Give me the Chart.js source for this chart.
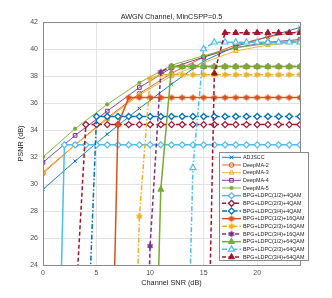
<!DOCTYPE html>
<html>
<head>
<meta charset="utf-8">
<script src="https://cdn.jsdelivr.net/npm/chart.js@4.4.1/dist/chart.umd.min.js"></script>
<style>
  html, body { margin: 0; padding: 0; background: #fff; }
  #wrap { width: 332px; height: 298px; }
</style>
</head>
<body>
<div id="wrap"><canvas id="chart" width="332" height="298"></canvas></div>
<script>
/* ===== DATA ===== */
const snrAll    = [0,1,2,3,4,5,6,7,8,9,10,11,12,13,14,15,16,17,18,19,20,21,22,23,24];
const snrCoarse = [0,3,6,9,12,15,18,21,24];
const xTicks = [0,5,10,15,20];
const yTicks = [24,26,28,30,32,34,36,38,40,42];

const adjscc  = [29.6,31.7,33.7,35.6,37.4,39.1,40.2,40.9,41.6];
const deepma2 = [30.8,32.9,34.9,36.7,38.2,39.4,40.3,40.9,41.3];
const deepma3 = [30.9,32.9,34.8,36.6,38.0,39.0,39.85,40.3,40.5];
const deepma4 = [31.6,33.6,35.4,37.15,38.6,39.4,40.1,40.5,40.7];
const deepma5 = [32.0,34.1,35.9,37.5,38.8,39.5,40.1,40.4,40.6];

// BPG+LDPC, one value per dB (null = not plotted, low values fall under the axis)
const qam4_12  = [null,0,32.9,32.9,32.9,32.9,32.9,32.9,32.9,32.9,32.9,32.9,32.9,32.9,32.9,32.9,32.9,32.9,32.9,32.9,32.9,32.9,32.9,32.9,32.9];
const qam4_23  = [null,null,null,20.4,34.4,34.4,34.4,34.4,34.4,34.4,34.4,34.4,34.4,34.4,34.4,34.4,34.4,34.4,34.4,34.4,34.4,34.4,34.4,34.4,34.4];
const qam4_34  = [null,null,null,null,15,35.0,35.0,35.0,35.0,35.0,35.0,35.0,35.0,35.0,35.0,35.0,35.0,35.0,35.0,35.0,35.0,35.0,35.0,35.0,35.0];
const qam16_12 = [null,null,null,null,null,null,0,34.4,36.4,36.4,36.4,36.4,36.4,36.4,36.4,36.4,36.4,36.4,36.4,36.4,36.4,36.4,36.4,36.4,36.4];
const qam16_23 = [null,null,null,null,null,null,null,null,0,27.6,37.8,38.1,38.1,38.1,38.1,38.1,38.1,38.1,38.1,38.1,38.1,38.1,38.1,38.1,38.1];
const qam16_34 = [null,null,null,null,null,null,null,null,null,0,25.4,38.3,38.7,38.7,38.7,38.7,38.7,38.7,38.7,38.7,38.7,38.7,38.7,38.7,38.7];
const qam64_12 = [null,null,null,null,null,null,null,null,null,null,0,29.6,38.7,38.7,38.7,38.7,38.7,38.7,38.7,38.7,38.7,38.7,38.7,38.7,38.7];
const qam64_23 = [null,null,null,null,null,null,null,null,null,null,null,null,null,0,31.2,40.0,40.5,40.5,40.5,40.5,40.5,40.5,40.5,40.5,40.5];
const qam64_34 = [null,null,null,null,null,null,null,null,null,null,null,null,null,null,null,0,38.2,41.2,41.2,41.2,41.2,41.2,41.2,41.2,41.2];

/* ===== STYLES ===== */
const BLUE = '#0072BD', ORANGE = '#D95319', YELLOW = '#EDB120', PURPLE = '#7E2F8E',
      GREEN = '#77AC30', LBLUE = '#4DBEEE', DRED = '#A2142F';
const DASH = [4, 2.5], DASHDOT = [5, 2, 1.5, 2];
const FONT = "'Liberation Sans', Arial, sans-serif";

// filled hexagram marker (MATLAB 'h')
function hexagram(color, size){
  const c = document.createElement('canvas');
  c.width = c.height = size;
  const g = c.getContext('2d');
  const cx = size / 2, cy = size / 2, r = size / 2 - 0.3;
  g.fillStyle = color;
  g.beginPath();
  for(let k = 0; k < 12; k++){
    const a = -Math.PI / 2 + k * Math.PI / 6;
    const rr = k % 2 ? r * 0.58 : r;
    g.lineTo(cx + rr * Math.cos(a), cy + rr * Math.sin(a));
  }
  g.closePath();
  g.fill();
  return c;
}

function pts(xs, ys){ return xs.map((x, i) => ({ x: x, y: ys[i] })); }

function series(label, xs, ys, o){
  return Object.assign({
    label: label,
    data: pts(xs, ys),
    borderWidth: 1,
    pointBorderWidth: 1,
    pointRadius: 2.5,
    tension: 0,
    spanGaps: false,
    fill: false
  }, o);
}

const datasets = [
  series('ADJSCC', snrCoarse, adjscc, { borderColor: BLUE, pointStyle: 'crossRot', pointBorderColor: BLUE, pointRadius: 2.3, borderWidth: 0.9 }),
  series('DeepMA-2', snrCoarse, deepma2, { borderColor: ORANGE, pointStyle: 'circle', pointBorderColor: ORANGE, pointBackgroundColor: 'rgba(0,0,0,0)', pointRadius: 2.3, borderWidth: 0.9 }),
  series('DeepMA-3', snrCoarse, deepma3, { borderColor: YELLOW, pointStyle: 'triangle', pointBorderColor: YELLOW, pointBackgroundColor: 'rgba(0,0,0,0)', pointRadius: 2.8, borderWidth: 0.9 }),
  series('DeepMA-4', snrCoarse, deepma4, { borderColor: PURPLE, pointStyle: 'rect', pointBorderColor: PURPLE, pointBackgroundColor: 'rgba(0,0,0,0)', pointRadius: 2.6, borderWidth: 0.9 }),
  series('DeepMA-5', snrCoarse, deepma5, { borderColor: GREEN, pointStyle: 'circle', pointBorderColor: GREEN, pointBackgroundColor: GREEN, pointRadius: 1.6, borderWidth: 0.9 }),
  series('BPG+LDPC(1/2)+4QAM', snrAll, qam4_12, { borderColor: LBLUE, pointStyle: 'rectRot', pointBorderColor: LBLUE, pointBackgroundColor: '#fff', pointRadius: 3, borderWidth: 1.5, pointBorderWidth: 1.3 }),
  series('BPG+LDPC(2/3)+4QAM', snrAll, qam4_23, { borderColor: DRED, borderDash: DASH, pointStyle: 'rectRot', pointBorderColor: DRED, pointBackgroundColor: '#fff', pointRadius: 3, borderWidth: 1.5, pointBorderWidth: 1.3 }),
  series('BPG+LDPC(3/4)+4QAM', snrAll, qam4_34, { borderColor: BLUE, borderDash: DASHDOT, pointStyle: 'rectRot', pointBorderColor: BLUE, pointBackgroundColor: '#fff', pointRadius: 3, borderWidth: 1.5, pointBorderWidth: 1.3 }),
  series('BPG+LDPC(1/2)+16QAM', snrAll, qam16_12, { borderColor: ORANGE, pointStyle: hexagram(ORANGE, 8), borderWidth: 1.5 }),
  series('BPG+LDPC(2/3)+16QAM', snrAll, qam16_23, { borderColor: YELLOW, borderDash: DASHDOT, pointStyle: hexagram(YELLOW, 8), borderWidth: 1.5 }),
  series('BPG+LDPC(3/4)+16QAM', snrAll, qam16_34, { borderColor: PURPLE, borderDash: DASH, pointStyle: hexagram(PURPLE, 8), borderWidth: 1.5 }),
  series('BPG+LDPC(1/2)+64QAM', snrAll, qam64_12, { borderColor: GREEN, pointStyle: 'triangle', pointBorderColor: GREEN, pointBackgroundColor: GREEN, pointRadius: 3.5, borderWidth: 1.5 }),
  series('BPG+LDPC(2/3)+64QAM', snrAll, qam64_23, { borderColor: LBLUE, borderDash: DASHDOT, pointStyle: 'triangle', pointBorderColor: LBLUE, pointBackgroundColor: '#fff', pointRadius: 3.5, borderWidth: 1.5, pointBorderWidth: 1.2 }),
  series('BPG+LDPC(3/4)+64QAM', snrAll, qam64_34, { borderColor: DRED, borderDash: DASH, pointStyle: 'triangle', pointBorderColor: DRED, pointBackgroundColor: DRED, pointRadius: 3.5, borderWidth: 1.5 })
];
// later series on top, like MATLAB
datasets.forEach((d, i) => { d.order = -i; });

/* ===== PLUGINS ===== */
const frame = {
  id: 'frame',
  afterDatasetsDraw(chart){
    const a = chart.chartArea, c = chart.ctx;
    c.save();
    c.strokeStyle = '#8a8a8a';
    c.lineWidth = 1;
    c.strokeRect(Math.round(a.left) + 0.5, Math.round(a.top) + 0.5, Math.round(a.right - a.left), Math.round(a.bottom - a.top));
    c.fillStyle = '#222';
    c.textAlign = 'center';
    c.textBaseline = 'middle';
    c.font = '7.3px ' + FONT;
    c.fillText('AWGN Channel, MinCSPP=0.5', (a.left + a.right) / 2, 16.5);
    c.fillStyle = '#262626';
    c.font = '7.3px ' + FONT;
    c.fillText('Channel SNR (dB)', (a.left + a.right) / 2, 283);
    c.translate(21, (a.top + a.bottom) / 2);
    c.rotate(-Math.PI / 2);
    c.fillText('PSNR (dB)', 0, 0);
    c.restore();
  }
};

function marker(c, d, x, y){
  const st = d.pointStyle, r = d.pointRadius;
  if(st instanceof HTMLCanvasElement){
    c.drawImage(st, x - st.width / 2, y - st.height / 2);
    return;
  }
  c.save();
  c.setLineDash([]);
  c.lineWidth = d.pointBorderWidth || 1;
  c.strokeStyle = d.pointBorderColor || d.borderColor;
  c.fillStyle = d.pointBackgroundColor || d.borderColor;
  c.beginPath();
  if(st === 'circle') c.arc(x, y, r, 0, Math.PI * 2);
  else if(st === 'triangle'){
    c.moveTo(x, y - r);
    c.lineTo(x + r * 0.87, y + r * 0.5);
    c.lineTo(x - r * 0.87, y + r * 0.5);
    c.closePath();
  }
  else if(st === 'rect'){ const s = r * Math.SQRT1_2; c.rect(x - s, y - s, 2 * s, 2 * s); }
  else if(st === 'rectRot'){
    c.moveTo(x, y - r); c.lineTo(x + r, y); c.lineTo(x, y + r); c.lineTo(x - r, y); c.closePath();
  }
  else if(st === 'crossRot'){
    const s = r * 0.8;
    c.moveTo(x - s, y - s); c.lineTo(x + s, y + s);
    c.moveTo(x + s, y - s); c.lineTo(x - s, y + s);
    c.stroke(); c.restore(); return;
  }
  c.fill();
  c.stroke();
  c.restore();
}

const boxLegend = {
  id: 'boxLegend',
  afterDraw(chart){
    const c = chart.ctx;
    const L = 219.5, T = 152.5, W = 89, H = 108;
    c.save();
    c.fillStyle = '#fff';
    c.fillRect(L, T, W, H);
    c.strokeStyle = '#8a8a8a';
    c.lineWidth = 1;
    c.strokeRect(L, T, W, H);
    c.font = '5.4px ' + FONT;
    c.textBaseline = 'middle';
    c.textAlign = 'left';
    chart.data.datasets.forEach((d, i) => {
      const y = 157.3 + i * 7.67;
      c.save();
      c.strokeStyle = d.borderColor;
      c.lineWidth = d.borderWidth;
      c.setLineDash(d.borderDash || []);
      c.beginPath();
      c.moveTo(222, y);
      c.lineTo(241, y);
      c.stroke();
      c.restore();
      marker(c, d, 231.5, y);
      c.fillStyle = '#222';
      c.fillText(d.label, 243, y + 0.3, 63);
    });
    c.restore();
  }
};

/* ===== CHART ===== */
const tickFont = { family: FONT, size: 7 };
new Chart(document.getElementById('chart'), {
  type: 'line',
  data: { datasets: datasets },
  options: {
    responsive: false,
    animation: false,
    events: [],
    layout: { padding: { left: 0, right: 32, top: 22, bottom: 0 } },
    plugins: { legend: { display: false }, tooltip: { enabled: false }, title: { display: false } },
    scales: {
      x: {
        type: 'linear', min: 0, max: 24,
        afterBuildTicks: s => { s.ticks = xTicks.map(v => ({ value: v })); },
        afterFit: s => { s.height = 33; },
        grid: { color: '#e3e3e3', drawTicks: false, lineWidth: 1 },
        border: { display: false },
        ticks: { font: tickFont, color: '#4d4d4d', padding: 4, maxRotation: 0 }
      },
      y: {
        type: 'linear', min: 24, max: 42,
        afterBuildTicks: s => { s.ticks = yTicks.map(v => ({ value: v })); },
        afterFit: s => { s.width = 43; },
        grid: { color: '#e3e3e3', drawTicks: false, lineWidth: 1 },
        border: { display: false },
        ticks: { font: tickFont, color: '#4d4d4d', padding: 5 }
      }
    }
  },
  plugins: [frame, boxLegend]
});
</script>
</body>
</html>
